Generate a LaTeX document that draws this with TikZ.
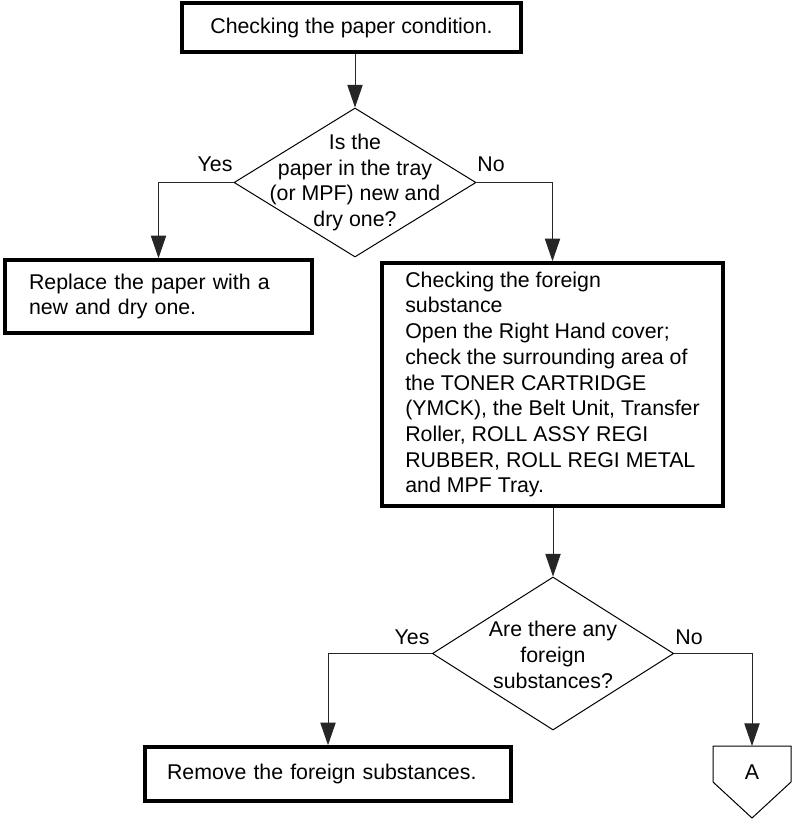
\documentclass[tikz,border=0pt]{standalone}
\usepackage{fontspec}
\setmainfont{Liberation Sans}
\usepackage{tikz}
\usetikzlibrary{positioning,arrows.meta,calc,shapes.geometric}

\begin{document}
\begin{tikzpicture}[x=0.75pt, y=-0.75pt,
  font=\fontsize{16pt}{19.3pt}\selectfont,
  procbox/.style={draw, line width=2.7pt, inner xsep=0pt, inner ysep=0pt},
  decision/.style={draw, diamond, line width=0.75pt, inner sep=0pt},
  flow/.style={line width=0.75pt, black!85, -{Triangle[width=11.5pt, length=17pt]}}]
\useasboundingbox (0,0) rectangle (794,824);
% ---- first check ----
\node[procbox, minimum width=254.25pt, minimum height=36.75pt] (paper) at (351.5,27.5)
  {Checking the paper condition.};
\node[decision, minimum width=181.5pt, minimum height=111.75pt,
  label={[align=center]center:Is the\\paper in the tray\\(or MPF) new and\\dry one?}] (isnew) at (355,182.5) {};
\node (yes1) at (215,164) {Yes};
\node (no1) at (491,164) {No};
% ---- branches ----
\node[procbox, minimum width=230.25pt, minimum height=54.75pt, text width=194.25pt, align=left] (replace) at (158.5,296.5)
  {Replace the paper with a\\new and dry one.};
\node[procbox, minimum width=255.75pt, minimum height=182.25pt, align=left] (foreign) at (552.5,384.5)
  {Checking the foreign\\substance\\Open the Right Hand cover;\\check the surrounding area of\\the TONER CARTRIDGE\\(YMCK), the Belt Unit, Transfer\\Roller, ROLL ASSY REGI\\RUBBER, ROLL REGI METAL\\and MPF Tray.};
\node[decision, minimum width=181pt, minimum height=114.75pt,
  label={[align=center, yshift=-1pt]center:Are there any\\foreign\\substances?}] (anyfs) at (553,653.5) {};
\node (yes2) at (412,637) {Yes};
\node (no2) at (689,637) {No};
\node[procbox, minimum width=274.5pt, minimum height=40.5pt, text width=241.5pt, align=left] (remove) at (328,774)
  {Remove the foreign substances.};
% off-page connector A
\coordinate (atop) at (752,746);
\draw[line width=0.75pt] (atop) ++(-39,0) -- ++(78,0) -- ++(0,36) -- ++(-39,36) -- ++(-39,-36) -- cycle;
\node (conA) at (752,772) {A};
% ---- connectors ----
\draw[flow] (isnew.north |- paper.south) -- (isnew.north);
\draw[flow] (isnew.west) -| (replace.north);
\draw[flow] (isnew.east) -| (foreign.north);
\draw[flow] (anyfs.north |- foreign.south) -- (anyfs.north);
\draw[flow] (anyfs.west) -| (remove.north);
\draw[flow] (anyfs.east) -| (atop);
\end{tikzpicture}
\end{document}
